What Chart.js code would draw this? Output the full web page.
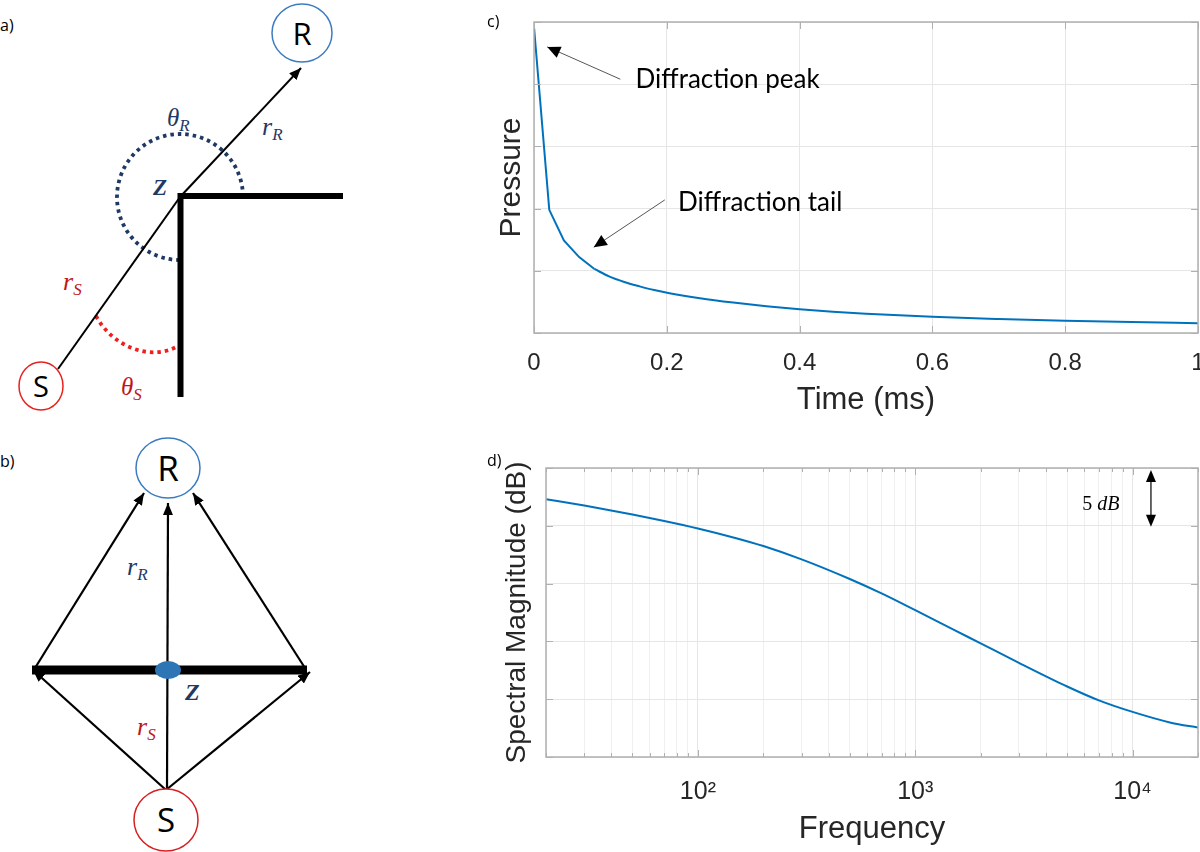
<!DOCTYPE html>
<html>
<head>
<meta charset="utf-8">
<script src="https://cdn.jsdelivr.net/npm/chart.js@4.4.1/dist/chart.umd.min.js"></script>
<style>
  html, body { margin: 0; padding: 0; background: #fff; }
  #page { position: relative; width: 1200px; height: 852px; overflow: hidden; }
  .panel { position: absolute; }
  .tag { position: absolute; font-family: "Open Sans", sans-serif; font-size: 16px; color: #000; z-index: 2; }
  #diagrams { position: absolute; left: 0; top: 0; }
  .math { font-family: "Liberation Serif", "DejaVu Serif", serif; font-style: italic; }
  .node { font-family: "Open Sans", sans-serif; }
</style>
</head>
<body>
<div id="page">

<svg id="diagrams" width="490" height="852" xmlns="http://www.w3.org/2000/svg">
  <defs>
    <marker id="head" viewBox="0 0 12 10" refX="12" refY="5" markerWidth="12" markerHeight="10"
            markerUnits="userSpaceOnUse" orient="auto">
      <path d="M0,0 L12,5 L0,10 z" fill="#000"/>
    </marker>
  </defs>

  <!-- a) -->
  <text x="0" y="31" class="node" font-size="16">a)</text>
  <path d="M243,197 A63,63 0 1 0 180,260" fill="none" stroke="#1f3864" stroke-width="3.8" stroke-dasharray="3.5 4"/>
  <path d="M96,316 C112,346 150,362 178,346" fill="none" stroke="#f21d1d" stroke-width="3.8" stroke-dasharray="3.5 4"/>
  <line x1="58" y1="369" x2="180" y2="197" stroke="#000" stroke-width="2"/>
  <line x1="180" y1="197" x2="301" y2="68" stroke="#000" stroke-width="2" marker-end="url(#head)"/>
  <path d="M343,196 L180.5,196 L180.5,397" fill="none" stroke="#000" stroke-width="6" stroke-linejoin="miter"/>
  <ellipse cx="302" cy="33" rx="30" ry="29" fill="#fff" stroke="#3b7cc0" stroke-width="1.5"/>
  <text x="302" y="45" class="node" font-size="31" text-anchor="middle">R</text>
  <ellipse cx="41" cy="386" rx="22" ry="24" fill="#fff" stroke="#e8211d" stroke-width="1.5"/>
  <text x="41" y="397" class="node" font-size="29" text-anchor="middle">S</text>
  <text x="167" y="126" class="math" font-size="25" fill="#1f3864">θ<tspan font-size="17" dy="5">R</tspan></text>
  <text x="262" y="135" class="math" font-size="26" fill="#1f3864">r<tspan font-size="17" dy="5">R</tspan></text>
  <text x="153" y="195" class="math" font-size="23" font-weight="bold" fill="#1f3864">Z</text>
  <text x="63" y="290" class="math" font-size="26" fill="#c0161b">r<tspan font-size="17" dy="5">S</tspan></text>
  <text x="121" y="395" class="math" font-size="25" fill="#c0161b">θ<tspan font-size="17" dy="5">S</tspan></text>

  <!-- b) -->
  <text x="0" y="467" class="node" font-size="16">b)</text>
  <line x1="32" y1="670" x2="307" y2="670" stroke="#000" stroke-width="9"/>
  <line x1="166" y1="790" x2="33" y2="670" stroke="#000" stroke-width="2.2" marker-end="url(#head)"/>
  <line x1="166" y1="790" x2="310" y2="672" stroke="#000" stroke-width="2.2" marker-end="url(#head)"/>
  <line x1="167" y1="790" x2="168" y2="503" stroke="#000" stroke-width="2.2" marker-end="url(#head)"/>
  <line x1="35" y1="668" x2="144" y2="493" stroke="#000" stroke-width="2.2" marker-end="url(#head)"/>
  <line x1="305" y1="668" x2="193" y2="493" stroke="#000" stroke-width="2.2" marker-end="url(#head)"/>
  <ellipse cx="168" cy="670" rx="13" ry="9" fill="#2e75b6"/>
  <ellipse cx="168" cy="468" rx="32" ry="30" fill="#fff" stroke="#3b7cc0" stroke-width="1.5"/>
  <text x="168" y="481" class="node" font-size="35" text-anchor="middle">R</text>
  <ellipse cx="166" cy="820" rx="32" ry="31" fill="#fff" stroke="#d42020" stroke-width="1.5"/>
  <text x="166" y="832" class="node" font-size="33" text-anchor="middle">S</text>
  <text x="127" y="575" class="math" font-size="26" fill="#1f3864">r<tspan font-size="17" dy="5">R</tspan></text>
  <text x="185" y="700" class="math" font-size="24" font-weight="bold" fill="#1f3864">Z</text>
  <text x="137" y="735" class="math" font-size="26" fill="#c0161b">r<tspan font-size="17" dy="5">S</tspan></text>
</svg>

<div class="tag" style="left:487px;top:10px">c)</div>
<div class="tag" style="left:487px;top:449px">d)</div>
<div class="panel" style="left:490px;top:0;width:710px;height:420px"><canvas id="pressureChart"></canvas></div>
<div class="panel" style="left:490px;top:440px;width:710px;height:412px"><canvas id="spectrumChart"></canvas></div>
</div>

<script>
// c) diffraction impulse response (arbitrary pressure units)
const timeMs = [0, 0.023, 0.045, 0.068, 0.091, 0.113, 0.136, 0.159, 0.181, 0.204,
  0.25, 0.3, 0.35, 0.4, 0.45, 0.5, 0.6, 0.7, 0.8, 0.9, 1.0];
const pressure = [4.92, 1.98, 1.49, 1.22, 1.03, 0.91, 0.82, 0.75, 0.69, 0.64,
  0.56, 0.49, 0.43, 0.38, 0.34, 0.31, 0.26, 0.225, 0.197, 0.175, 0.158];
// the first samples are joined by straight segments, the tail is smooth
const sharpCount = 4;

// d) spectral magnitude, dB relative to the top of the axes
const freqHz = [20, 30, 50, 70, 100, 150, 200, 300, 500, 700, 1000, 1500, 2000,
  3000, 5000, 7000, 10000, 15000, 20000];
const magnitudeDb = [-2.7, -3.25, -4.02, -4.58, -5.23, -6.07, -6.75, -7.9, -9.6, -10.85,
  -12.3, -13.98, -15.17, -16.85, -18.9, -20.1, -21.1, -22.03, -22.45];

// log-axis ticks (grid lines) and the decade labels
const freqTicks = [20, 30, 40, 50, 60, 70, 80, 90, 100, 200, 300, 400, 500, 600, 700, 800, 900,
  1000, 2000, 3000, 4000, 5000, 6000, 7000, 8000, 9000, 10000, 20000];
const decadeLabels = { 100: "10²", 1000: "10³", 10000: "10⁴" };

const LINE_BLUE = "#0072BD";
const TEXT = "#262626";
const GRID = "#e6e6e6";
const GRID_MINOR = "#f0f0f0";
const FRAME = "#b0b0b0";
const SANS = "'Liberation Sans', Arial, sans-serif";

const pressureNotes = [
  { text: "Diffraction peak", textAt: [0.153, 4.07], from: [0.13, 4.08], to: [0.02, 4.6] },
  { text: "Diffraction tail", textAt: [0.217, 2.1], from: [0.197, 2.14], to: [0.09, 1.38] },
];
const dbMarker = { text: "5 dB", textAt: [7140, -3.2], x: 12150, top: 0, bottom: -5 };

function drawHead(ctx, x0, y0, x1, y1, len, half) {
  const a = Math.atan2(y1 - y0, x1 - x0);
  ctx.beginPath();
  ctx.moveTo(x1, y1);
  ctx.lineTo(x1 - len * Math.cos(a) + half * Math.sin(a), y1 - len * Math.sin(a) - half * Math.cos(a));
  ctx.lineTo(x1 - len * Math.cos(a) - half * Math.sin(a), y1 - len * Math.sin(a) + half * Math.cos(a));
  ctx.closePath();
  ctx.fill();
}

// MATLAB style box with inward tick marks
const matlabFrame = {
  id: "matlabFrame",
  afterDatasetsDraw(chart) {
    const { ctx, chartArea: a, scales } = chart;
    ctx.save();
    ctx.strokeStyle = FRAME;
    ctx.lineWidth = 1.5;
    ctx.strokeRect(a.left, a.top, a.right - a.left, a.bottom - a.top);
    ctx.lineWidth = 1;
    ctx.beginPath();
    scales.x.ticks.forEach((t) => {
      const px = Math.round(scales.x.getPixelForValue(t.value)) + 0.5;
      const len = t.label ? 7 : 4;
      ctx.moveTo(px, a.bottom);
      ctx.lineTo(px, a.bottom - len);
      ctx.moveTo(px, a.top);
      ctx.lineTo(px, a.top + len);
    });
    scales.y.ticks.forEach((t) => {
      const py = Math.round(scales.y.getPixelForValue(t.value)) + 0.5;
      ctx.moveTo(a.left, py);
      ctx.lineTo(a.left + 7, py);
      ctx.moveTo(a.right, py);
      ctx.lineTo(a.right - 7, py);
    });
    ctx.stroke();
    ctx.restore();
  },
};

const pressureArrows = {
  id: "pressureArrows",
  afterDraw(chart) {
    const { ctx, scales } = chart;
    const px = (v) => scales.x.getPixelForValue(v);
    const py = (v) => scales.y.getPixelForValue(v);
    ctx.save();
    ctx.font = "26px Lato, 'Open Sans', sans-serif";
    ctx.textBaseline = "middle";
    ctx.fillStyle = "#000";
    pressureNotes.forEach((n) => {
      const x0 = px(n.from[0]), y0 = py(n.from[1]);
      const x1 = px(n.to[0]), y1 = py(n.to[1]);
      ctx.strokeStyle = "#555";
      ctx.lineWidth = 1;
      ctx.beginPath();
      ctx.moveTo(x0, y0);
      ctx.lineTo(x1, y1);
      ctx.stroke();
      drawHead(ctx, x0, y0, x1, y1, 13, 6);
      ctx.fillText(n.text, px(n.textAt[0]), py(n.textAt[1]));
    });
    ctx.restore();
  },
};

const dbArrow = {
  id: "dbArrow",
  afterDraw(chart) {
    const { ctx, scales } = chart;
    const x = scales.x.getPixelForValue(dbMarker.x);
    const yTop = scales.y.getPixelForValue(dbMarker.top) + 2;
    const yBot = scales.y.getPixelForValue(dbMarker.bottom) + 1;
    ctx.save();
    ctx.strokeStyle = "#000";
    ctx.fillStyle = "#000";
    ctx.lineWidth = 1.2;
    ctx.beginPath();
    ctx.moveTo(x, yTop + 6);
    ctx.lineTo(x, yBot - 6);
    ctx.stroke();
    drawHead(ctx, x, yBot, x, yTop, 12, 5);
    drawHead(ctx, x, yTop, x, yBot, 12, 5);
    // "5" upright, "dB" italic
    const tx = scales.x.getPixelForValue(dbMarker.textAt[0]);
    const ty = scales.y.getPixelForValue(dbMarker.textAt[1]);
    const upright = "20px 'Liberation Serif', serif";
    const italic = "italic 20px 'Liberation Serif', serif";
    ctx.font = upright;
    const w1 = ctx.measureText("5 ").width;
    ctx.font = italic;
    const w2 = ctx.measureText("dB").width;
    const start = tx - (w1 + w2) / 2;
    ctx.textBaseline = "middle";
    ctx.font = upright;
    ctx.fillText("5 ", start, ty);
    ctx.font = italic;
    ctx.fillText("dB", start + w1, ty);
    ctx.restore();
  },
};

const pressurePoints = timeMs.map((t, i) => ({ x: t, y: pressure[i] }));

new Chart(document.getElementById("pressureChart"), {
  type: "line",
  data: {
    datasets: [
      {
        data: pressurePoints.slice(0, sharpCount + 1),
        borderColor: LINE_BLUE,
        borderWidth: 2,
        pointRadius: 0,
        tension: 0,
      },
      {
        data: pressurePoints.slice(sharpCount),
        borderColor: LINE_BLUE,
        borderWidth: 2,
        pointRadius: 0,
        cubicInterpolationMode: "monotone",
      },
    ],
  },
  options: {
    responsive: true,
    maintainAspectRatio: false,
    animation: false,
    layout: { padding: { top: 22, right: 2, left: 0, bottom: 0 } },
    plugins: { legend: { display: false }, tooltip: { enabled: false } },
    scales: {
      x: {
        type: "linear",
        min: 0,
        max: 1,
        ticks: {
          stepSize: 0.2,
          padding: 16,
          autoSkip: false,
          maxRotation: 0,
          color: TEXT,
          font: { family: SANS, size: 24 },
          callback: (v) => String(Math.round(v * 10) / 10),
        },
        grid: { color: GRID, drawTicks: false },
        border: { display: false },
        title: {
          display: true,
          text: "Time (ms)",
          color: TEXT,
          font: { family: SANS, size: 31, lineHeight: 1 },
          padding: { top: 0, bottom: 4 },
        },
        afterFit(scale) {
          scale.height = 87;
          scale.paddingLeft = 0;
          scale.paddingRight = 0;
        },
      },
      y: {
        min: 0,
        max: 5,
        ticks: { stepSize: 1, display: false },
        grid: { color: GRID, drawTicks: false },
        border: { display: false },
        title: {
          display: true,
          text: "Pressure",
          color: TEXT,
          font: { family: SANS, size: 30, lineHeight: 1 },
          padding: { top: 7, bottom: 0 },
        },
        afterFit(scale) {
          scale.width = 44;
          scale.paddingTop = 0;
          scale.paddingBottom = 0;
        },
      },
    },
  },
  plugins: [matlabFrame, pressureArrows],
});

new Chart(document.getElementById("spectrumChart"), {
  type: "line",
  data: {
    datasets: [
      {
        data: freqHz.map((f, i) => ({ x: f, y: magnitudeDb[i] })),
        borderColor: LINE_BLUE,
        borderWidth: 2,
        pointRadius: 0,
        cubicInterpolationMode: "monotone",
      },
    ],
  },
  options: {
    responsive: true,
    maintainAspectRatio: false,
    animation: false,
    layout: { padding: { top: 28, right: 2, left: 0, bottom: 0 } },
    plugins: { legend: { display: false }, tooltip: { enabled: false } },
    scales: {
      x: {
        type: "logarithmic",
        min: 20,
        max: 20000,
        afterBuildTicks(scale) {
          scale.ticks = freqTicks.map((v) => ({ value: v }));
        },
        ticks: {
          autoSkip: false,
          maxRotation: 0,
          padding: 20,
          color: TEXT,
          font: { family: SANS, size: 25 },
          callback: (v) => decadeLabels[v] || "",
        },
        grid: {
          drawTicks: false,
          color: (c) => (c.tick && decadeLabels[c.tick.value] ? GRID : GRID_MINOR),
        },
        border: { display: false },
        title: {
          display: true,
          text: "Frequency",
          color: TEXT,
          font: { family: SANS, size: 31, lineHeight: 1 },
          padding: { top: 0, bottom: 7 },
        },
        afterFit(scale) {
          scale.height = 95;
          scale.paddingLeft = 0;
          scale.paddingRight = 0;
        },
      },
      y: {
        min: -25,
        max: 0,
        ticks: { stepSize: 5, display: false },
        grid: { color: GRID, drawTicks: false },
        border: { display: false },
        title: {
          display: true,
          text: "Spectral Magnitude (dB)",
          color: TEXT,
          font: { family: SANS, size: 28, lineHeight: 1 },
          padding: { top: 13, bottom: 0 },
        },
        afterFit(scale) {
          scale.width = 56;
          scale.paddingTop = 0;
          scale.paddingBottom = 0;
        },
      },
    },
  },
  plugins: [matlabFrame, dbArrow],
});
</script>
</body>
</html>
